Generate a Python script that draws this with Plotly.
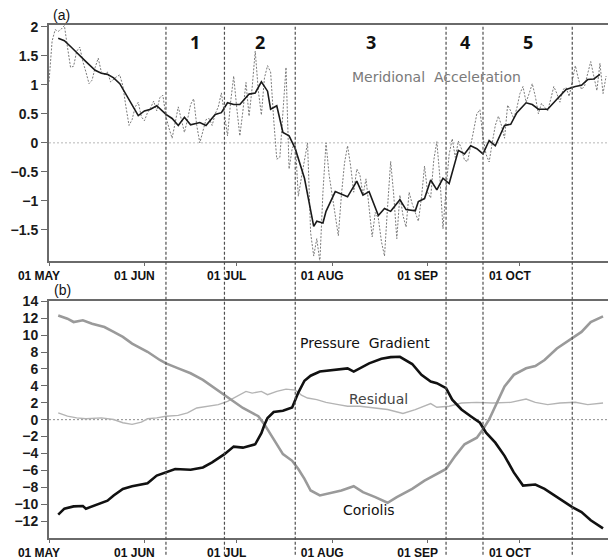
import pandas as pd
import plotly.graph_objects as go

BASE = pd.Timestamp("2010-05-01")

# ---- (a) meridional acceleration: daily values (day 0 = 01 May) ----
accel_daily = [
    1.05, 1.75, 1.95, 1.92, 1.96, 2.02, 1.65, 1.30, 1.32, 1.58,
    1.65, 1.40, 1.22, 1.02, 1.08, 1.30, 1.46, 1.22, 1.18, 1.22,
    1.05, 1.10, 1.14, 1.17, 0.98, 0.62, 0.30, 0.40, 0.62, 0.70,
    0.45, 0.38, 0.52, 0.60, 0.72, 0.55, 0.78, 0.82, 0.45, 0.25,
    0.08, 0.35, 0.62, 0.40, 0.18, 0.40, 0.66, 0.76, 0.30, 0.00,
    0.22, 0.40, 0.42, 0.30, 0.50, 0.62, 0.86, 0.45, 0.12, 0.70,
    1.15, 0.60, 0.12, 0.55, 1.04, 0.46, 0.95, 1.58, 0.90, 0.48,
    1.12, 1.33, 1.22, 0.40, -0.28, -0.25, 0.55, 1.30, -0.45, -0.10,
    0.02, -0.92, -0.60, -0.30, 0.00, -1.55, -1.95, -1.65, -2.05, -0.85,
    0.00, -0.55, -0.90, -1.20, -1.60, -0.90, -0.35, -0.05, -0.40, -0.85,
    -0.45, -0.55, -0.90, -0.62, -1.10, -1.62, -1.20, -1.30, -1.70, -1.95,
    -1.10, -0.32, -0.90, -1.65, -0.90, -1.25, -1.45, -0.85, -1.05, -1.20,
    -1.35, -0.95, -0.40, -0.85, -0.95, -0.30, 0.02, -0.60, -1.48, -0.80,
    -0.20, 0.07, -0.25, 0.03, -0.10, -0.30, -0.32, -0.05, 0.20, 0.50,
    0.57, 0.10, -0.20, -0.33, 0.00, 0.30, 0.46, 0.30, 0.08, 0.65,
    0.55, 0.42, 0.60, 0.85, 0.97, 0.70, 0.85, 1.02, 0.80, 0.50,
    0.68, 0.62, 0.55, 0.75, 0.97, 0.85, 0.70, 0.92, 0.95, 0.80,
    1.05, 1.33, 1.10, 0.92, 0.98, 1.20, 1.40, 1.15, 0.90, 1.37,
    0.85, 1.15,
]

# smoothed acceleration (day, value)
accel_smooth_day = [
    3, 5, 7, 9, 12, 15, 17, 19, 21, 23, 26, 29, 31, 33, 35, 38, 40, 42, 44, 46,
    49, 51, 54, 56, 58, 60, 62, 65, 67, 69, 71, 72, 74, 76, 78, 80, 83, 86, 87, 89,
    90, 93, 97, 100, 102, 104, 107, 109, 111, 114, 116, 119, 120, 122, 124, 126, 128, 130, 133, 135,
    137, 139, 141, 143, 145, 148, 150, 152, 155, 157, 159, 162, 165, 168, 171, 173, 175, 177, 179,
]
accel_smooth_val = [
    1.80, 1.76, 1.66, 1.55, 1.40, 1.25, 1.20, 1.18, 1.12, 1.02, 0.75, 0.47, 0.55, 0.58, 0.64, 0.49, 0.42, 0.30, 0.44, 0.31,
    0.35, 0.30, 0.49, 0.52, 0.69, 0.66, 0.66, 0.84, 0.86, 1.05, 0.89, 0.58, 0.64, 0.18, 0.12, -0.10, -0.61, -1.44, -1.35, -1.38,
    -1.18, -0.84, -0.93, -0.66, -0.90, -0.84, -1.25, -1.13, -1.18, -0.98, -1.15, -1.17, -1.01, -0.96, -0.64, -0.81, -0.61, -0.70, -0.13, -0.19,
    -0.05, -0.10, -0.19, 0.04, -0.05, 0.30, 0.32, 0.52, 0.69, 0.66, 0.58, 0.58, 0.75, 0.92, 0.97, 0.99, 1.09, 1.10, 1.18,
]

# ---- (b) momentum budget terms (day, value) ----
pg_day = [
    3, 5, 8, 11, 12, 15, 19, 21, 24, 27, 30, 32, 35, 38, 41, 46, 50, 53, 57, 60,
    63, 67, 69, 70, 71, 73, 76, 79, 81, 83, 85, 88, 92, 97, 99, 101, 104, 108, 111, 114,
    118, 121, 124, 126, 129, 131, 134, 137, 140, 142, 145, 148, 151, 154, 158, 161, 165, 170, 173, 176, 180,
]
pg_val = [
    -11.23, -10.53, -10.26, -10.22, -10.53, -10.14, -9.59, -8.97, -8.19, -7.88, -7.70, -7.52, -6.62, -6.24, -5.84, -5.92, -5.65, -5.06, -4.08, -3.19,
    -3.31, -2.91, -1.60, -0.60, 0.20, 0.90, 1.05, 1.45, 3.20, 4.60, 5.20, 5.69, 5.88, 6.07, 5.69, 6.07, 6.66, 7.20, 7.40, 7.44,
    6.58, 5.30, 4.51, 4.31, 3.73, 2.37, 1.20, 0.41, -0.37, -1.55, -2.72, -4.28, -6.24, -7.80, -7.68, -8.19, -9.17, -10.34, -10.93, -11.90, -12.87,
]

cor_day = [
    3, 6, 8, 11, 14, 18, 21, 24, 27, 32, 36, 38, 42, 46, 50, 53, 57, 60, 63, 66,
    68, 70, 73, 76, 79, 81, 83, 85, 88, 92, 95, 99, 102, 106, 110, 113, 118, 122, 126, 129,
    132, 135, 139, 141, 143, 145, 148, 151, 155, 158, 161, 165, 170, 173, 176, 180,
]
cor_val = [
    12.33, 11.94, 11.55, 11.75, 11.35, 10.96, 10.38, 9.79, 9.00, 8.03, 7.06, 6.66, 6.07, 5.49, 4.71, 3.93, 2.95, 2.17, 1.38, 0.80,
    0.41, -0.56, -2.32, -4.08, -4.87, -5.84, -7.00, -8.38, -8.97, -8.58, -8.38, -7.88, -8.58, -9.17, -9.83, -9.17, -8.19, -7.21, -6.43, -5.84,
    -4.28, -2.91, -2.13, -1.15, 0.02, 1.58, 3.93, 5.30, 6.07, 6.35, 7.06, 8.42, 9.59, 10.38, 11.55, 12.22,
]

res_day = [
    3, 6, 9, 12, 17, 21, 24, 27, 30, 32, 35, 38, 42, 45, 48, 51, 55, 58, 61, 64,
    66, 69, 71, 74, 77, 80, 82, 84, 87, 90, 94, 97, 101, 105, 110, 115, 119, 124, 126, 130,
    134, 139, 144, 150, 155, 158, 162, 166, 171, 175, 180,
]
res_val = [
    0.80, 0.41, 0.21, 0.10, 0.21, 0.02, -0.37, -0.56, -0.29, 0.10, 0.21, 0.41, 0.50, 0.80, 1.38, 1.58, 1.78, 2.17, 2.76, 3.34,
    3.14, 3.34, 2.95, 3.34, 3.61, 3.50, 2.90, 2.56, 2.37, 2.05, 1.78, 1.58, 1.58, 1.38, 1.20, 0.73, 1.19, 1.90, 1.46, 1.58,
    1.97, 2.05, 1.97, 2.05, 2.44, 2.05, 1.78, 1.97, 2.05, 1.78, 1.97,
]

# stage boundaries (days after 01 May) and stage names
boundary_days = [38, 57, 80, 129, 141, 170]
stage_names = ["1", "2", "3", "4", "5"]

month_days = [0, 31, 61, 92, 123, 153]
month_labels = ["01 MAY", "01 JUN", "01 JUL", "01 AUG", "01 SEP", "01 OCT"]


def to_date(days):
    return [BASE + pd.Timedelta(days=float(d)) for d in days]


W, H = 608, 560
MT, MB, ML, MR = 25, 17, 49, 0
PH = H - MT - MB


def py(px):
    """pixel row -> paper y"""
    return (H - MB - px) / PH


dom_a = [py(263), 1.0]
dom_b = [0.0, py(304)]

fig = go.Figure()

# panel (a)
fig.add_trace(go.Scatter(
    x=to_date(range(len(accel_daily))), y=accel_daily, mode="lines",
    line=dict(color="#7a7a7a", width=1, dash="2px,1.5px"),
    xaxis="x", yaxis="y", showlegend=False, hoverinfo="skip"))
fig.add_trace(go.Scatter(
    x=to_date(accel_smooth_day), y=accel_smooth_val, mode="lines",
    line=dict(color="#1a1a1a", width=1.6),
    xaxis="x", yaxis="y", showlegend=False))

# panel (b)
fig.add_trace(go.Scatter(
    x=to_date(res_day), y=res_val, mode="lines",
    line=dict(color="#b4b4b4", width=1.4),
    xaxis="x2", yaxis="y2", showlegend=False))
fig.add_trace(go.Scatter(
    x=to_date(cor_day), y=cor_val, mode="lines",
    line=dict(color="#9a9a9a", width=2.6),
    xaxis="x2", yaxis="y2", showlegend=False))
fig.add_trace(go.Scatter(
    x=to_date(pg_day), y=pg_val, mode="lines",
    line=dict(color="#111111", width=2.6),
    xaxis="x2", yaxis="y2", showlegend=False))

x_range = [BASE, BASE + pd.Timedelta(days=(W - ML) / 3.078)]
tick_dates = to_date(month_days)
axis_col = "#6a6a6a"

xcommon = dict(
    range=x_range, tickvals=tick_dates, ticktext=month_labels,
    ticks="outside", ticklen=3, tickcolor=axis_col, showgrid=False, zeroline=False,
    showline=True, linecolor=axis_col, linewidth=2, mirror=True,
    ticklabelshift=-10,
    tickfont=dict(family="Liberation Sans, Arial, sans-serif", size=12, color="#111", weight="bold"),
)
ycommon = dict(
    ticks="outside", ticklen=6, tickcolor=axis_col, showgrid=False, zeroline=False,
    showline=True, linecolor=axis_col, linewidth=2,
    tickfont=dict(family="Liberation Sans, Arial, sans-serif", size=14, color="#1a1a1a", weight="bold"),
)

fig.update_layout(
    width=W, height=H, margin=dict(l=ML, r=MR, t=MT, b=MB),
    paper_bgcolor="white", plot_bgcolor="white",
    xaxis=dict(domain=[0, 1], anchor="y", **xcommon),
    yaxis=dict(domain=dom_a, anchor="x", range=[-2.03, 2.03],
               tickvals=[-1.5, -1, -0.5, 0, 0.5, 1, 1.5, 2], **ycommon),
    xaxis2=dict(domain=[0, 1], anchor="y2", **xcommon),
    yaxis2=dict(domain=dom_b, anchor="x2", range=[-14, 14],
                tickvals=list(range(-12, 15, 2)), **ycommon),
)

shapes = []
# zero reference lines
shapes.append(dict(type="line", xref="x domain", yref="y", x0=0, x1=1, y0=0, y1=0,
                   line=dict(color="#b8b8b8", width=1, dash="2px,2px"), layer="below"))
shapes.append(dict(type="line", xref="x2 domain", yref="y2", x0=0, x1=1, y0=0, y1=0,
                   line=dict(color="#8c8c8c", width=1, dash="2px,2px"), layer="below"))
# stage boundaries through both panels
for d in boundary_days:
    dt = BASE + pd.Timedelta(days=d)
    shapes.append(dict(type="line", xref="x", yref="paper", x0=dt, x1=dt,
                       y0=py(H), y1=1.0,
                       line=dict(color="#505050", width=1.2, dash="3px,2px")))
fig.update_layout(shapes=shapes)

ann = []
lab_font = dict(family="Liberation Sans, Arial, sans-serif", size=14, color="#111")
ann.append(dict(text="(a)", xref="paper", yref="paper", x=0.003, y=py(15),
                xanchor="left", yanchor="middle", showarrow=False, font=lab_font))
ann.append(dict(text="(b)", xref="paper", yref="paper", x=0.006, y=py(293),
                xanchor="left", yanchor="middle", showarrow=False, font=lab_font))

# stage numbers centred between boundaries
for i, name in enumerate(stage_names):
    mid = (boundary_days[i] + boundary_days[i + 1]) / 2
    ann.append(dict(text=f"<b>{name}</b>", xref="x", yref="y",
                    x=BASE + pd.Timedelta(days=mid), y=1.74, showarrow=False,
                    font=dict(family="Open Sans, Liberation Sans, sans-serif", size=18, color="#111")))

curve_font = dict(family="DejaVu Sans, sans-serif", size=14)
ann.append(dict(text="Meridional  Acceleration", xref="x", yref="y",
                x=BASE + pd.Timedelta(days=126), y=1.13, showarrow=False,
                font=dict(color="#7a7a7a", **curve_font)))
ann.append(dict(text="Pressure  Gradient", xref="x2", yref="y2",
                x=BASE + pd.Timedelta(days=102.7), y=9.1, showarrow=False,
                font=dict(color="#111", **curve_font)))
ann.append(dict(text="Residual", xref="x2", yref="y2",
                x=BASE + pd.Timedelta(days=107.2), y=2.4, showarrow=False,
                font=dict(color="#444", **curve_font)))
ann.append(dict(text="Coriolis", xref="x2", yref="y2",
                x=BASE + pd.Timedelta(days=103.8), y=-10.7, showarrow=False,
                font=dict(color="#111", **curve_font)))
fig.update_layout(annotations=ann)

fig.write_html("out.html")
